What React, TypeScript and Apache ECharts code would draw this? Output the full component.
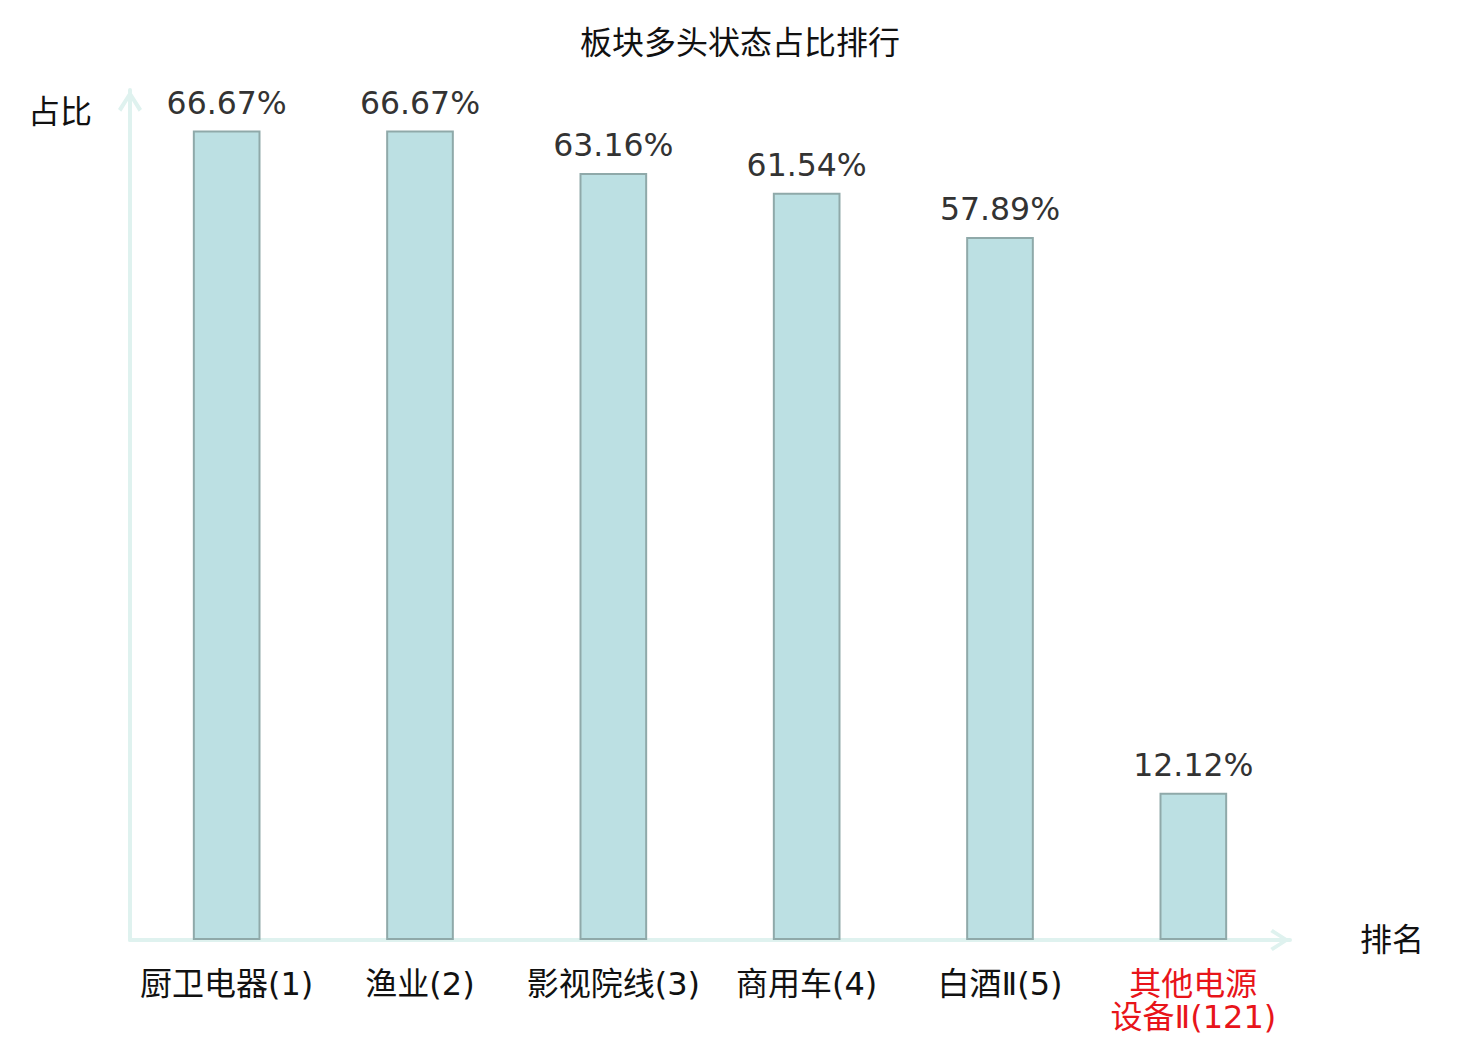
import React, { useEffect, useRef } from "react";
import * as echarts from "echarts";

const titleText = "板块多头状态占比排行";
const categories = ["厨卫电器(1)", "渔业(2)", "影视院线(3)", "商用车(4)", "白酒Ⅱ(5)", "其他电源设备Ⅱ(121)"];
const values = [66.67, 66.67, 63.16, 61.54, 57.89, 12.12];
const highlightIndex = [5];
const yName = "占比";
const xName = "排名";

const FONT = "'DejaVu Sans', 'Noto Sans CJK SC', sans-serif";
const AXIS_COLOR = "#dff2ef";
const ARROW = "path://M11,0 L22,17 L19,19.5 L11,6.5 L3,19.5 L0,17 Z";

export default function App() {
  const ref = useRef<HTMLDivElement>(null);
  useEffect(() => {
    if (!ref.current) return;
    const chart = echarts.init(ref.current, null, { renderer: "svg" });
    chart.setOption({
      animation: false,
      title: {
        text: titleText,
        left: "center",
        top: 27,
        padding: 0,
        textStyle: { fontFamily: FONT, fontSize: 32, fontWeight: "normal", color: "#111" },
      },
      grid: { left: 130, right: 190, top: 90, bottom: 100, containLabel: false },
      xAxis: {
        type: "category",
        data: categories,
        name: xName,
        nameLocation: "end",
        nameGap: 70,
        nameTextStyle: { fontFamily: FONT, fontSize: 32, color: "#111" },
        axisLine: {
          show: true,
          symbol: ["none", ARROW],
          symbolSize: [22, 20],
          symbolOffset: [0, -10],
          lineStyle: { color: AXIS_COLOR, width: 4 },
        },
        axisTick: { show: false },
        axisLabel: {
          interval: 0,
          margin: 27,
          fontFamily: FONT,
          fontSize: 32,
          lineHeight: 33,
          color: (_v: string, i: number) => (highlightIndex.includes(i) ? "#e8141a" : "#111"),
          formatter: (v: string) => (v.length > 10 ? v.slice(0, 4) + "\n" + v.slice(4) : v),
        },
      },
      yAxis: {
        type: "value",
        min: 0,
        max: 70,
        name: yName,
        nameLocation: "end",
        nameGap: -6,
        nameTextStyle: {
          fontFamily: FONT,
          fontSize: 32,
          color: "#111",
          align: "right",
          verticalAlign: "top",
          padding: [0, 38, 0, 0],
        },
        axisLine: {
          show: true,
          symbol: ["none", ARROW],
          symbolSize: [24, 22],
          symbolOffset: [0, -11],
          lineStyle: { color: AXIS_COLOR, width: 4 },
        },
        axisTick: { show: false },
        axisLabel: { show: false },
        splitLine: { show: false },
      },
      series: [
        {
          type: "bar",
          data: values,
          barWidth: "35%",
          itemStyle: { color: "#bce0e3", borderColor: "#8fa9a9", borderWidth: 2 },
          label: {
            show: true,
            position: "top",
            distance: 12,
            fontFamily: FONT,
            fontSize: 31.5,
            color: "#333",
            formatter: (p: any) => p.value.toFixed(2) + "%",
          },
        },
      ],
    });
    return () => chart.dispose();
  }, []);
  return (
    <div
      ref={ref}
      style={{ position: "fixed", left: 0, top: 0, width: 1480, height: 1040, background: "#fff" }}
    />
  );
}
